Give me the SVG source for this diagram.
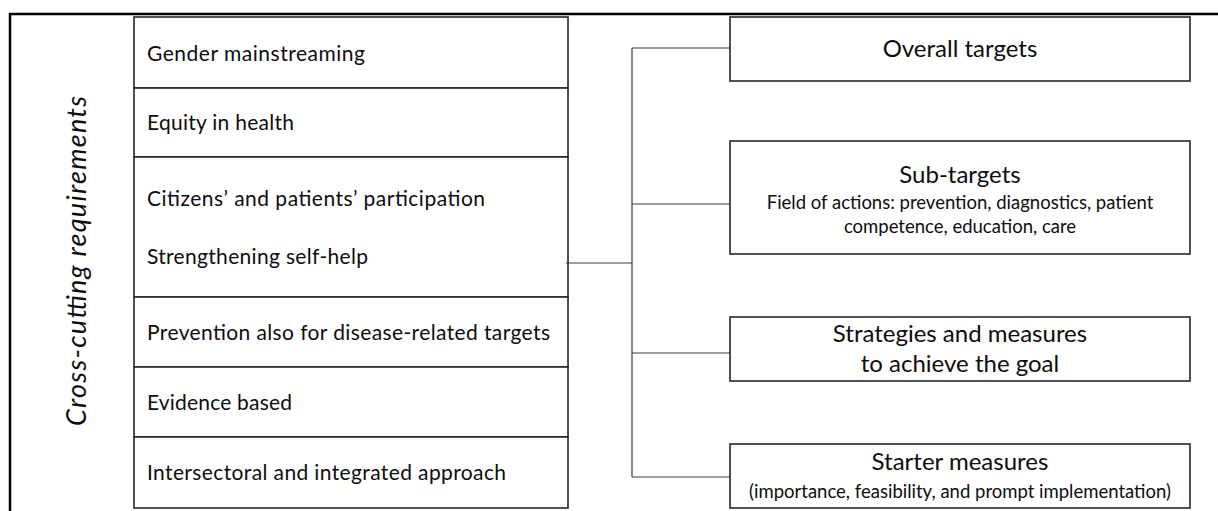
<svg xmlns="http://www.w3.org/2000/svg" width="1218" height="511" viewBox="0 0 1218 511">
  <style>
    .frame { stroke: #000; stroke-width: 2.5; fill: none; }
    .box { fill: #fff; stroke: #262626; stroke-width: 1.6; }
    .link { stroke: #3a3a3a; stroke-width: 1.2; fill: none; }
    text { font-family: Lato, "Open Sans", "Liberation Sans", sans-serif; fill: #0d0d0d; }
    .item { font-size: 21px; }
    .title { font-size: 24px; text-anchor: middle; }
    .sub { font-size: 18.5px; text-anchor: middle; }
    .side { font-size: 27px; font-style: italic; text-anchor: middle; }
  </style>

  <!-- outer frame (top and left rules) -->
  <path class="frame" d="M10,511 V14 H1218"/>

  <!-- vertical side label -->
  <g id="side-label">
    <text class="side" transform="translate(86,261) rotate(-90)" textLength="330">Cross-cutting requirements</text>
  </g>

  <!-- cross-cutting requirements column -->
  <g id="req-gender">
    <rect class="box" x="134" y="17" width="434" height="71"/>
    <text class="item" x="147" y="61" textLength="218">Gender mainstreaming</text>
  </g>
  <g id="req-equity">
    <rect class="box" x="134" y="88" width="434" height="69"/>
    <text class="item" x="147" y="130" textLength="147">Equity in health</text>
  </g>
  <g id="req-participation">
    <rect class="box" x="134" y="157" width="434" height="140"/>
    <text class="item" x="147" y="206" textLength="338">Citizens’ and patients’ participation</text>
    <text class="item" x="147" y="264" textLength="221">Strengthening self-help</text>
  </g>
  <g id="req-prevention">
    <rect class="box" x="134" y="297" width="434" height="70"/>
    <text class="item" x="147" y="340" textLength="403">Prevention also for disease-related targets</text>
  </g>
  <g id="req-evidence">
    <rect class="box" x="134" y="367" width="434" height="70"/>
    <text class="item" x="147" y="410" textLength="145">Evidence based</text>
  </g>
  <g id="req-intersectoral">
    <rect class="box" x="134" y="437" width="434" height="71"/>
    <text class="item" x="147" y="480" textLength="359">Intersectoral and integrated approach</text>
  </g>

  <!-- connectors -->
  <g id="connectors">
    <path class="link" d="M566,263 H632"/>
    <path class="link" d="M632,48 V477"/>
    <path class="link" d="M632,48 H730"/>
    <path class="link" d="M632,204 H730"/>
    <path class="link" d="M632,353 H730"/>
    <path class="link" d="M632,477 H730"/>
  </g>

  <!-- target levels -->
  <g id="overall-targets">
    <rect class="box" x="730" y="17" width="460" height="64"/>
    <text class="title" x="960" y="57">Overall targets</text>
  </g>
  <g id="sub-targets">
    <rect class="box" x="730" y="141" width="460" height="113"/>
    <text class="title" x="960" y="183">Sub-targets</text>
    <text class="sub" x="960" y="209">Field of actions: prevention, diagnostics, patient</text>
    <text class="sub" x="960" y="233">competence, education, care</text>
  </g>
  <g id="strategies">
    <rect class="box" x="730" y="317" width="460" height="64"/>
    <text class="title" x="960" y="342">Strategies and measures</text>
    <text class="title" x="960" y="372">to achieve the goal</text>
  </g>
  <g id="starter-measures">
    <rect class="box" x="730" y="444" width="460" height="64"/>
    <text class="title" x="960" y="470">Starter measures</text>
    <text class="sub" x="960" y="498" style="font-size:18.5px">(importance, feasibility, and prompt implementation)</text>
  </g>
</svg>
